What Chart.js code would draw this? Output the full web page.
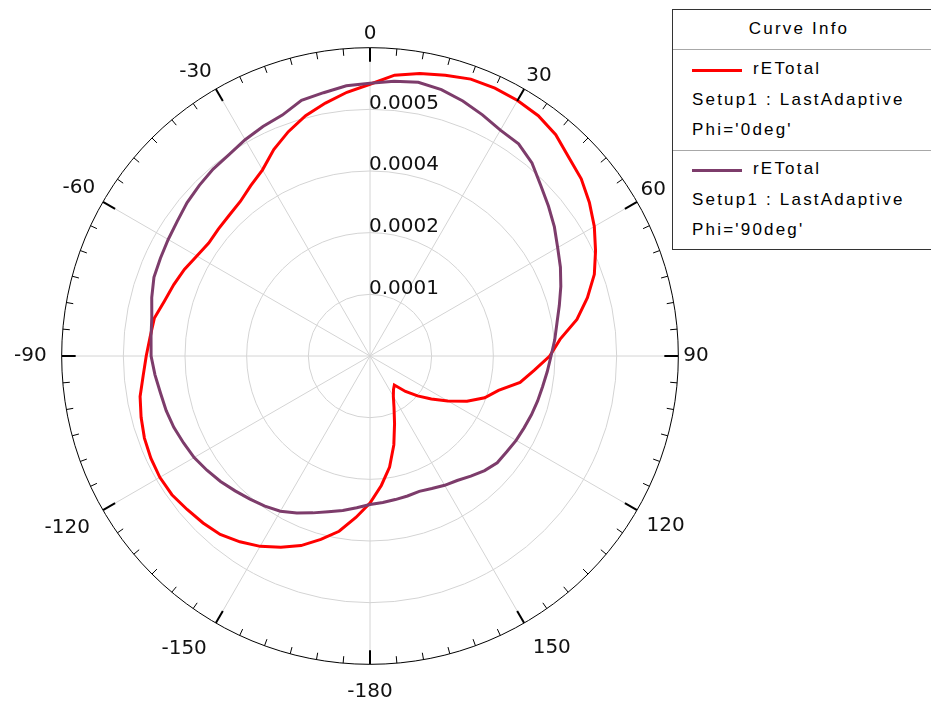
<!DOCTYPE html>
<html>
<head>
<meta charset="utf-8">
<script src="https://cdn.jsdelivr.net/npm/chart.js@4/dist/chart.umd.min.js"></script>
<style>
html,body{margin:0;padding:0;background:#fff;width:931px;height:704px;overflow:hidden;position:relative;}
#wrap{position:absolute;left:0;top:-8px;width:931px;height:730px;}
#legend{position:absolute;left:672px;top:9px;width:272px;height:241px;border:1px solid #333;box-sizing:border-box;background:#fff;
  font-family:"Liberation Sans",Arial,sans-serif;font-size:17px;letter-spacing:2.2px;color:#000;}
#legend .t{position:absolute;line-height:20px;white-space:nowrap;}
#legend .div{position:absolute;left:0;right:0;height:1px;background:#a8a8a8;}
#legend .sw{position:absolute;height:3px;width:50px;}
</style>
</head>
<body>
<div id="wrap"><canvas id="c" width="931" height="730"></canvas></div>
<div id="legend"></div>
<script>
// ---- data (angle in degrees, clockwise from top; values of rETotal) ----
const angleLabels = [];
for (let i = 0; i < 72; i++) { const a = i * 5; angleLabels.push(String(a < 180 ? a : a - 360)); }

const ringLabels = ['', '0.0001', '0.0002', '0.0004', '0.0005', ''];
const rMin = -0.00006, rMax = 0.00064, rStep = 0.00014;

// Phi = 0deg (red)
const phi0 = [
  0.000557, 0.000580, 0.000591, 0.000600, 0.000609, 0.000611, 0.000610, 0.000606, 0.000596, 0.000578, 0.000566, 0.000548,
  0.000528, 0.000505, 0.000482, 0.000451, 0.000417, 0.000373, 0.000348, 0.000314, 0.000286, 0.000242, 0.000217, 0.000183,
  0.000144, 0.000110, 0.000081, 0.000054, 0.000026, 0.000033, 0.000046, 0.000069, 0.000103, 0.000149, 0.000196, 0.000235,
  0.000274, 0.000308, 0.000344, 0.000371, 0.000398, 0.000419, 0.000439, 0.000455, 0.000469, 0.000476, 0.000482, 0.000489,
  0.000491, 0.000489, 0.000485, 0.000478, 0.000470, 0.000457, 0.000448, 0.000441, 0.000437, 0.000423, 0.000414, 0.000405,
  0.000394, 0.000387, 0.000389, 0.000392, 0.000398, 0.000412, 0.000428, 0.000457, 0.000482, 0.000505, 0.000523, 0.000541
];
// Phi = 90deg (purple)
const phi90 = [
  0.000559, 0.000566, 0.000571, 0.000566, 0.000556, 0.000544, 0.000532, 0.000528, 0.000512, 0.000488, 0.000469, 0.000451,
  0.000432, 0.000417, 0.000401, 0.000385, 0.000371, 0.000361, 0.000351, 0.000344, 0.000338, 0.000334, 0.000330, 0.000326,
  0.000323, 0.000319, 0.000317, 0.000308, 0.000296, 0.000285, 0.000279, 0.000272, 0.000267, 0.000269, 0.000271, 0.000274,
  0.000277, 0.000286, 0.000296, 0.000306, 0.000319, 0.000333, 0.000347, 0.000356, 0.000364, 0.000373, 0.000383, 0.000392,
  0.000401, 0.000407, 0.000414, 0.000419, 0.000423, 0.000430, 0.000437, 0.000439, 0.000443, 0.000453, 0.000462, 0.000465,
  0.000469, 0.000474, 0.000482, 0.000488, 0.000494, 0.000498, 0.000507, 0.000515, 0.000522, 0.000541, 0.000547, 0.000556
];

const seriesNames = ['rETotal', 'rETotal'];
const seriesSetup = ['Setup1 : LastAdaptive', 'Setup1 : LastAdaptive'];
const seriesPhi = ["Phi='0deg'", "Phi='90deg'"];
const seriesColors = ['#ff0000', '#7d3c6b'];

// ---- legend (HTML) ----
(function buildLegend() {
  const lg = document.getElementById('legend');
  const add = (cls, css, text) => { const d = document.createElement('div'); d.className = cls; d.style.cssText = css; if (text) d.textContent = text; lg.appendChild(d); return d; };
  add('t', 'left:126px;top:9px;transform:translateX(-50%);', 'Curve Info');
  add('div', 'top:39px;');
  for (let k = 0; k < 2; k++) {
    const o = k * 100;
    add('sw', `left:19px;top:${59 + o}px;background:${seriesColors[k]};`);
    add('t', `left:80px;top:${49 + o}px;`, seriesNames[k]);
    add('t', `left:19px;top:${80 + o}px;`, seriesSetup[k]);
    add('t', `left:19px;top:${110 + o}px;`, seriesPhi[k]);
  }
  add('div', 'top:140px;');
})();

// ---- decorations drawn from the radial scale ----
const polarDecor = {
  id: 'polarDecor',
  afterDatasetsDraw(chart) {
    const s = chart.scales.r, ctx = chart.ctx;
    ctx.save();
    ctx.strokeStyle = '#000';
    for (let i = 0; i < angleLabels.length; i++) {
      const major = i % 6 === 0;
      const len = major ? 14 : 7;
      const p1 = s.getPointPosition(i, s.drawingArea);
      const p2 = s.getPointPosition(i, s.drawingArea - len);
      ctx.lineWidth = major ? 2 : 1;
      ctx.beginPath(); ctx.moveTo(p1.x, p1.y); ctx.lineTo(p2.x, p2.y); ctx.stroke();
    }
    ctx.font = '20px "DejaVu Sans"';
    ctx.fillStyle = '#111';
    ctx.textAlign = 'left';
    ctx.textBaseline = 'middle';
    s.ticks.forEach((t, i) => {
      const lab = ringLabels[i];
      if (!lab) return;
      const d = s.getDistanceFromCenterForValue(t.value);
      ctx.fillText(lab, s.xCenter - 1, s.yCenter - d - 6);
    });
    ctx.restore();
  }
};

const labelPad = {0: 4, 6: 4, 12: 4, 18: 5, 24: 11, 30: 17, 36: 17, 42: 18, 48: 15, 54: 15, 60: 9, 66: 8};

new Chart(document.getElementById('c'), {
  type: 'radar',
  data: {
    labels: angleLabels,
    datasets: [
      { label: seriesPhi[0], data: phi0, borderColor: seriesColors[0], borderWidth: 3, pointRadius: 0, fill: false, order: 1 },
      { label: seriesPhi[1], data: phi90, borderColor: seriesColors[1], borderWidth: 3, pointRadius: 0, fill: false, order: 0 }
    ]
  },
  options: {
    responsive: false,
    animation: false,
    layout: { padding: { left: 6, right: 213, top: 15, bottom: 3 } },
    plugins: { legend: { display: false }, tooltip: { enabled: false } },
    elements: { line: { tension: 0 } },
    scales: {
      r: {
        min: rMin, max: rMax,
        ticks: { display: false, stepSize: rStep, callback: (v, i) => ringLabels[i] || '' },
        grid: {
          circular: true,
          lineWidth: 1,
          color: (c) => (c.index === ringLabels.length - 1 ? '#000' : '#d4d4d4')
        },
        angleLines: {
          display: true,
          lineWidth: 1,
          color: (c) => (c.index % 6 === 0 ? '#d4d4d4' : 'rgba(0,0,0,0)')
        },
        pointLabels: {
          display: true,
          color: '#111',
          font: { family: 'DejaVu Sans', size: 20, lineHeight: 1 },
          padding: (c) => (labelPad[c.index] !== undefined ? labelPad[c.index] : 0),
          callback: (lab, i) => (i % 6 === 0 ? lab : '')
        }
      }
    }
  },
  plugins: [polarDecor]
});
</script>
</body>
</html>
